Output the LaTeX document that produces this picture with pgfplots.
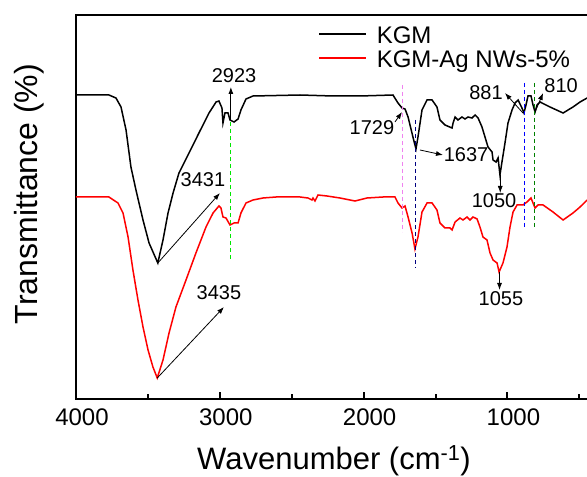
\documentclass[border=0pt]{standalone}
\usepackage{fontspec}
\setmainfont{Liberation Sans}
\usepackage{pgfplots}
\pgfplotsset{compat=1.18}
\usetikzlibrary{arrows.meta}
\definecolor{brightgreen}{RGB}{0,230,0}
\definecolor{violetd}{RGB}{240,130,240}
\definecolor{navyd}{RGB}{0,0,128}
\definecolor{blued}{RGB}{0,0,255}
\definecolor{dgreen}{RGB}{0,128,0}
\begin{document}
\begin{tikzpicture}
\useasboundingbox (0,0) rectangle (587bp,477bp);
\begin{axis}[
  at={(76bp,78bp)}, anchor=south west,
  scale only axis, width=513.4bp, height=384bp,
  x dir=reverse, xmin=430, xmax=4000, ymin=0, ymax=384,
  axis line style={line width=2.2bp},
  xtick={4000,3000,2000,1000}, minor xtick={3500,2500,1500,500},
  ytick=\empty, xtick pos=lower, tick align=inside,
  major tick length=7bp, minor tick length=4.5bp,
  every tick/.style={line width=2bp, black},
  /pgf/number format/assume math mode=true,
  /pgf/number format/1000 sep={},
  xticklabel style={font=\fontsize{24bp}{28bp}\selectfont, xshift=6bp, yshift=-6bp},
  legend style={draw=none, fill=none, at={(rel axis cs:0.4715,0.909)}, anchor=west,
    font=\fontsize{24bp}{28bp}\selectfont, inner sep=0pt, row sep=2bp, column sep=10bp,
    nodes={inner sep=0pt, text height=17bp, text depth=5bp}},
  legend cell align=left,
  legend image code/.code={\draw[#1] (0bp,4bp) -- (47bp,4bp);},
  clip=true,
]
\addplot[black, line width=1.5bp] coordinates {
(4000,304) (3771,304) (3722,301) (3687,292) (3652,269) (3618,232) (3583,209) (3534,179)
(3492,156) (3431,136) (3395,159) (3360,186) (3325,206) (3284,226) (3214,246) (3145,266)
(3075,286) (3026,297) (3006,298) (2985,291) (2978,276) (2964,286) (2943,286) (2929,279)
(2901,277) (2873,280) (2853,289) (2818,300) (2769,303) (2442,304) (2213,303) (2025,303)
(1796,304) (1761,296) (1733,291) (1712,290) (1691,282) (1657,262) (1636,250) (1622,262)
(1594,289) (1559,299) (1524,299) (1490,292) (1469,279) (1434,274) (1385,271) (1378,276)
(1364,282) (1344,279) (1316,282) (1295,280) (1274,282) (1246,281) (1225,284) (1204,281)
(1177,272) (1156,262) (1135,252) (1107,247) (1100,239) (1079,237) (1065,241) (1052,224)
(1038,237) (1017,256) (996,276) (968,289) (947,296) (926,299) (899,291) (885,286)
(871,294) (857,303) (836,303) (822,294) (808,287) (794,294) (773,297) (704,292)
(613,286) (544,292) (495,297) (446,301)
};
\addlegendentry{KGM}
\addplot[red, line width=1.5bp] coordinates {
(4000,202) (3771,202) (3708,196) (3673,186) (3638,162) (3604,129) (3569,99) (3534,72)
(3499,49) (3465,32) (3435,21) (3395,39) (3353,66) (3305,92) (3235,119) (3166,146)
(3096,172) (3047,186) (3006,193) (2992,191) (2978,182) (2957,181) (2929,174) (2901,176)
(2873,176) (2853,186) (2818,196) (2769,199) (2700,201) (2609,202) (2442,202) (2387,201)
(2359,199) (2352,201) (2338,198) (2317,204) (2255,203) (2164,201) (2060,198) (1976,201)
(1865,202) (1782,202) (1761,196) (1733,191) (1712,193) (1691,182) (1663,166) (1643,150)
(1622,162) (1594,187) (1559,196) (1524,196) (1490,189) (1469,176) (1434,171) (1399,171)
(1385,169) (1364,177) (1330,181) (1309,179) (1281,182) (1260,179) (1239,182) (1211,180)
(1191,172) (1170,162) (1142,159) (1121,146) (1100,139) (1072,136) (1058,127) (1031,136)
(1003,152) (982,172) (961,187) (933,194) (892,194) (864,197) (836,201) (822,196)
(808,191) (787,194) (752,194) (683,187) (613,179) (544,186) (495,192) (446,199)
};
\addlegendentry{KGM-Ag NWs-5\%}
% dashed guide lines
\draw[brightgreen, line width=1bp, dash pattern=on 4bp off 3bp] (axis cs:2923,277) -- (axis cs:2923,140);
\draw[violetd, line width=1bp, dash pattern=on 4bp off 3bp] (axis cs:1729,314) -- (axis cs:1729,167);
\draw[navyd, line width=1bp, dash pattern=on 4bp off 3bp] (axis cs:1637,279) -- (axis cs:1637,131);
\draw[blued, line width=1bp, dash pattern=on 4bp off 3bp] (axis cs:881,316) -- (axis cs:881,171);
\draw[dgreen, line width=1bp, dash pattern=on 4bp off 3bp] (axis cs:810,316) -- (axis cs:810,171);
% arrows
\tikzset{ann/.style={-{Latex[length=7bp,width=5bp]}, line width=0.8bp, black}}
\draw[ann] (axis cs:2923,279) -- (axis cs:2923,312);
\draw[ann] (axis cs:3431,136) -- (axis cs:2999,206);
\draw[ann] (axis cs:3435,21) -- (axis cs:2971,92);
\draw[ann] (axis cs:1782,277) -- (axis cs:1733,287);
\draw[ann] (axis cs:1608,249) -- (axis cs:1448,244);
\draw[ann] (axis cs:1050,224) -- (axis cs:1050,206);
\draw[ann] (axis cs:1055,127) -- (axis cs:1055,109);
\draw[ann] (axis cs:892,286) -- (axis cs:1017,306);
\draw[ann] (axis cs:808,287) -- (axis cs:752,306);
% labels
\tikzset{lab/.style={font=\fontsize{20bp}{24bp}\selectfont, inner sep=0pt}}
\node[lab] at (axis cs:2901,323) {2923};
\node[lab] at (axis cs:3117,219) {3431};
\node[lab] at (axis cs:3006,106) {3435};
\node[lab] at (axis cs:1942,271) {1729};
\node[lab] at (axis cs:1288,244) {1637};
\node[lab] at (axis cs:1093,198) {1050};
\node[lab] at (axis cs:1045,100) {1055};
\node[lab] at (axis cs:1149,306) {881};
\node[lab] at (axis cs:627,313) {810};
\end{axis}
\node[anchor=base, font=\fontsize{31bp}{36bp}\selectfont] at (334bp,7.5bp) {Wavenumber (cm\textsuperscript{-1})};
\node[anchor=base, rotate=90, font=\fontsize{32bp}{36bp}\selectfont] at (37bp,283bp) {Transmittance (\%)};
\end{tikzpicture}
\end{document}
